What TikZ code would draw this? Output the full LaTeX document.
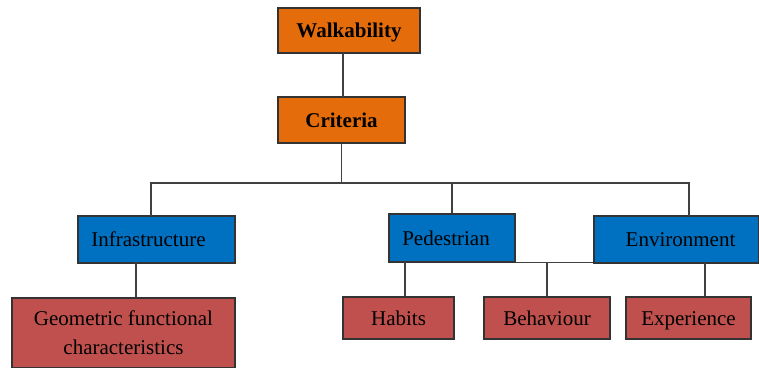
\documentclass[tikz,border=0pt]{standalone}
\usepackage{fontspec}
\setmainfont{Liberation Serif}
\definecolor{orng}{HTML}{E46C0A}
\definecolor{blu}{HTML}{0070C0}
\definecolor{rd}{HTML}{C0504D}
\begin{document}
\begin{tikzpicture}[x=1pt,y=-1pt,
  box/.style={draw=black!80,line width=1.2pt,inner sep=0pt,font=\fontsize{21}{25}\selectfont,align=center},
  oneline/.style={text height=15.5pt,text depth=1.5pt},
  topbox/.style={box,oneline,fill=orng,font=\fontsize{21}{25}\selectfont\bfseries},
  midbox/.style={box,oneline,fill=blu},
  lowbox/.style={box,fill=rd},
  link/.style={draw=black!75,line width=1.2pt}]
\useasboundingbox (0,0) rectangle (759,367);
\node[topbox,minimum width=142pt,minimum height=45pt] (walk) at (349,30.5) {Walkability};
\node[topbox,minimum width=127pt,minimum height=46pt] (crit) at (341.5,120) {Criteria};
\node[midbox,minimum width=157pt,minimum height=47pt] (infra) at (156.5,239.5) {Infrastructure\hspace{16pt}};
\node[midbox,minimum width=126pt,minimum height=48pt] (ped) at (452,238) {Pedestrian\hspace{12pt}};
\node[midbox,minimum width=165pt,minimum height=47pt] (env) at (676.5,239.5) {\hspace{8pt}Environment};
\node[lowbox,minimum width=223pt,minimum height=70pt] (geo) at (123.5,333) {Geometric functional\\[4pt]characteristics};
\node[lowbox,oneline,minimum width=111pt,minimum height=42pt] (hab) at (398.5,318) {Habits};
\node[lowbox,oneline,minimum width=126pt,minimum height=42pt] (beh) at (547,318) {Behaviour};
\node[lowbox,oneline,minimum width=125pt,minimum height=42pt] (exp) at (688.5,318) {Experience};
\coordinate (bus) at (341.5,183);
\coordinate (pebus) at (547,262);
\draw[link] (343,53) -- (343,97);
\draw[link] (crit.south) -- (bus);
\draw[link] (151,216) |- (bus) -| (689,216);
\draw[link] (bus -| ped.north) -- (ped.north);
\draw[link] (136,263) -- (geo.north -| 136,0);
\draw[link] (ped.south east) -- (ped.south east -| env.west);
\draw[link] (pebus) -- (beh.north);
\draw[link] (405,262) -- (hab.north -| 405,0);
\draw[link] (705,263) -- (exp.north -| 705,0);
\end{tikzpicture}
\end{document}
